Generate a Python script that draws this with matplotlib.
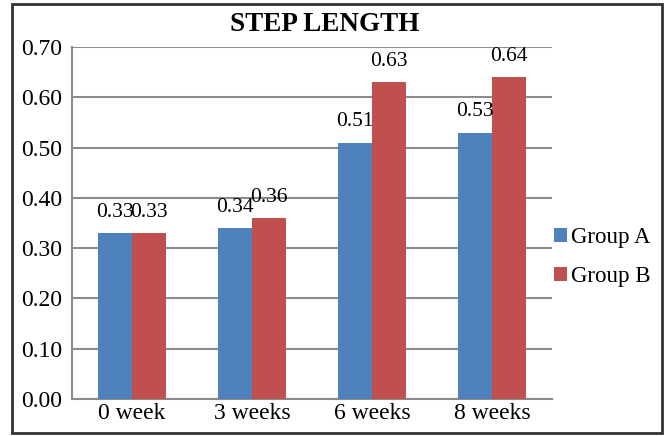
import numpy as np
import matplotlib.pyplot as plt
from matplotlib.patches import Rectangle

# step length per assessment week
weeks = ['0 week', '3 weeks', '6 weeks', '8 weeks']
group_a = [0.33, 0.34, 0.51, 0.53]
group_b = [0.33, 0.36, 0.63, 0.64]

plt.rcParams['font.family'] = 'serif'
plt.rcParams['font.serif'] = ['Liberation Serif', 'DejaVu Serif']

fig = plt.figure(figsize=(6.67, 4.36), dpi=100)
ax = fig.add_axes([0.108, 0.085, 0.72, 0.807])

x = np.arange(len(weeks))
w = 0.285
bars_a = ax.bar(x - w/2, group_a, w, color='#4F81BD', label='Group A', zorder=3)
bars_b = ax.bar(x + w/2, group_b, w, color='#C0504D', label='Group B', zorder=3)

for bars, vals in ((bars_a, group_a), (bars_b, group_b)):
    for b, v in zip(bars, vals):
        ax.annotate('%.2f' % v, (b.get_x() + b.get_width()/2, v),
                    xytext=(0, 8), textcoords='offset points',
                    ha='center', va='bottom', fontsize=15.5)

ax.set_xlim(-0.5, 3.5)
ax.set_ylim(0, 0.70)
ax.set_yticks(np.arange(0, 0.71, 0.1))
ax.set_yticklabels(['%.2f' % t for t in np.arange(0, 0.71, 0.1)])
ax.set_xticks(x)
ax.set_xticklabels(weeks)
ax.tick_params(axis='both', labelsize=17, length=0, pad=3)
ax.tick_params(axis='y', pad=7)

ax.grid(axis='y', color='#8c8c8c', linewidth=1.5, zorder=0)
for s in ('top', 'right'):
    ax.spines[s].set_visible(False)
for s in ('left', 'bottom'):
    ax.spines[s].set_color('#8c8c8c')
    ax.spines[s].set_linewidth(1.5)

fig.text(0.487, 0.943, 'STEP LENGTH', fontsize=19.5, fontweight='bold',
         ha='center', va='center')

ax.legend(loc='center left', bbox_to_anchor=(0.831, 0.41),
          bbox_transform=fig.transFigure, frameon=False,
          fontsize=16.5, handlelength=0.55, handleheight=0.55, handletextpad=0.2,
          labelspacing=0.8, borderpad=0, borderaxespad=0)

# outer frame
fig.patches.append(Rectangle((0.018, 0.007), 0.975, 0.983, transform=fig.transFigure,
                             fill=False, edgecolor='#333333', linewidth=2))

fig.savefig('out.png', dpi=100)
